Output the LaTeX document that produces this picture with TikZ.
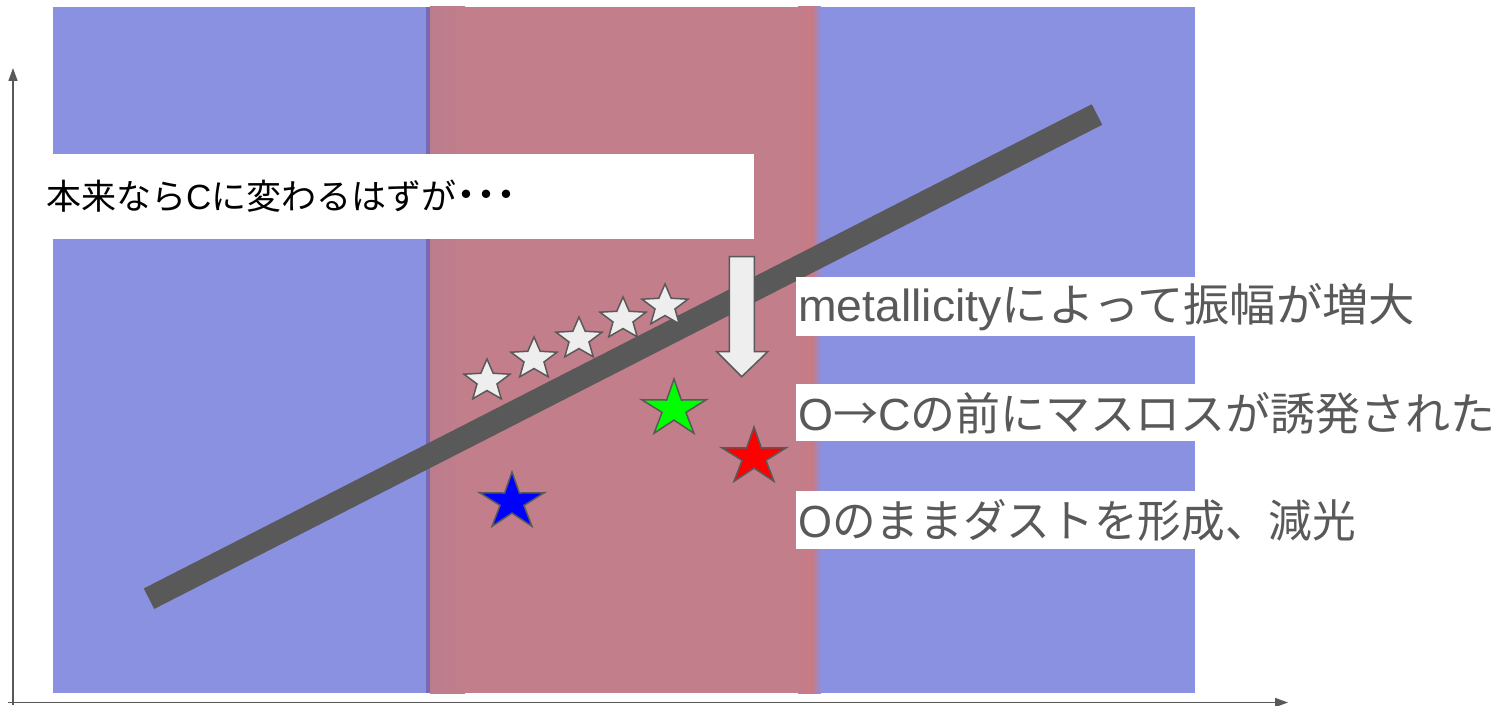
\documentclass[tikz,border=0pt]{standalone}
\usepackage{fontspec}
\setmainfont{Liberation Sans}
\newfontfamily\jp{Noto Sans CJK JP}
\usetikzlibrary{shapes.geometric,arrows.meta}
\definecolor{bgblue}{RGB}{138,145,225}
\definecolor{bandpink}{RGB}{194,126,139}
\definecolor{bandred}{RGB}{200,122,132}
\definecolor{edgepurple}{RGB}{118,106,178}
\definecolor{dgray}{RGB}{89,89,89}
\definecolor{sgray}{RGB}{238,238,238}
\begin{document}
\begin{tikzpicture}[x=1pt,y=-1pt,
  axis/.style={draw=dgray, line width=1.5pt, -{Triangle[length=13pt,width=9pt]}},
  wstar/.style={star, star points=5, star point ratio=2.3, minimum size=44pt, inner sep=0pt, draw=dgray, line width=1.5pt, fill=sgray, xscale=1.1},
  cstar/.style={star, star points=5, star point ratio=2.7, minimum size=60pt, inner sep=0pt, draw=dgray, line width=1.5pt, xscale=1.13},
  wbox/.style={fill=white, draw=none},
  lbl/.style={anchor=west, inner sep=0pt, text=dgray, font=\fontsize{45}{54}\selectfont},
]
\useasboundingbox (0,0) rectangle (1506,706);
% background
\fill[bgblue] (53,7) rectangle (1195,693);
\fill[bandpink] (428,7) rectangle (812,693);
\fill[edgepurple] (425.5,7) rectangle (430,693);
\shade[left color=bandpink!92!edgepurple, right color=bandpink] (430,7) rectangle (465,693);
\shade[left color=bandpink, right color=bandred] (798,7) rectangle (812,693);
\shade[left color=bandred, right color=bgblue] (812,7) rectangle (821,693);
% axes
\coordinate (o) at (13,705);
\coordinate (ytop) at (13,68);
\coordinate (xo) at (8,702.5);
\coordinate (xend) at (1288,702.5);
\draw[axis] (o) -- (ytop);
\draw[axis] (xo) -- (xend);
% thick line
\coordinate (ls) at (149,598.7);
\coordinate (le) at (1097,114.5);
\draw[dgray, line width=23pt] (ls) -- (le);
% top white box
\node[wbox, anchor=north west, minimum width=701pt, minimum height=85pt, inner sep=0pt] (topbox) at (53,153.5) {};
\node[anchor=west, inner sep=0pt, font=\fontsize{35}{42}\selectfont] (toptext) at (46,196) {{\jp 本来なら}C{\jp に変わるはずが\bfseries\fontsize{40}{42}\selectfont ･･･}};
% white stars
\node[wstar] (s1) at (487,381) {};
\node[wstar] (s2) at (534,359) {};
\node[wstar] (s3) at (579,339) {};
\node[wstar] (s4) at (623,319) {};
\node[wstar] (s5) at (665,306) {};
% colored stars
\node[cstar, fill={rgb,255:red,0;green,255;blue,0}] (gs) at (674,409) {};
\node[cstar, fill=red] (rs) at (754,457) {};
\node[cstar, fill=blue] (bs) at (512,502) {};
% down arrow
\filldraw[fill=sgray, draw=dgray, line width=1.5pt, line join=miter]
  (729.3,256.7) -- (754.3,256.7) -- (754.3,351.7) -- (767.7,351.7) -- (741.7,376.7)
  -- (716.7,351.7) -- (729.3,351.7) -- cycle;
% right boxes
\node[wbox, anchor=north west, minimum width=399pt, minimum height=59pt, inner sep=0pt] (b1) at (796,277) {};
\node[wbox, anchor=north west, minimum width=399pt, minimum height=57pt, inner sep=0pt] (b2) at (796,384) {};
\node[wbox, anchor=north west, minimum width=399pt, minimum height=58pt, inner sep=0pt] (b3) at (796,491) {};
\node[lbl, xscale=1.03] (t1) at (798,307) {metallicity{\jp によって振幅が増大}};
\node[lbl] (t2) at (798,413) {O{\jp →}C{\jp の前にマスロスが誘発された}};
\node[lbl, xscale=0.97] (t3) at (798,520) {O{\jp のままダストを形成、減光}};
\end{tikzpicture}
\end{document}
